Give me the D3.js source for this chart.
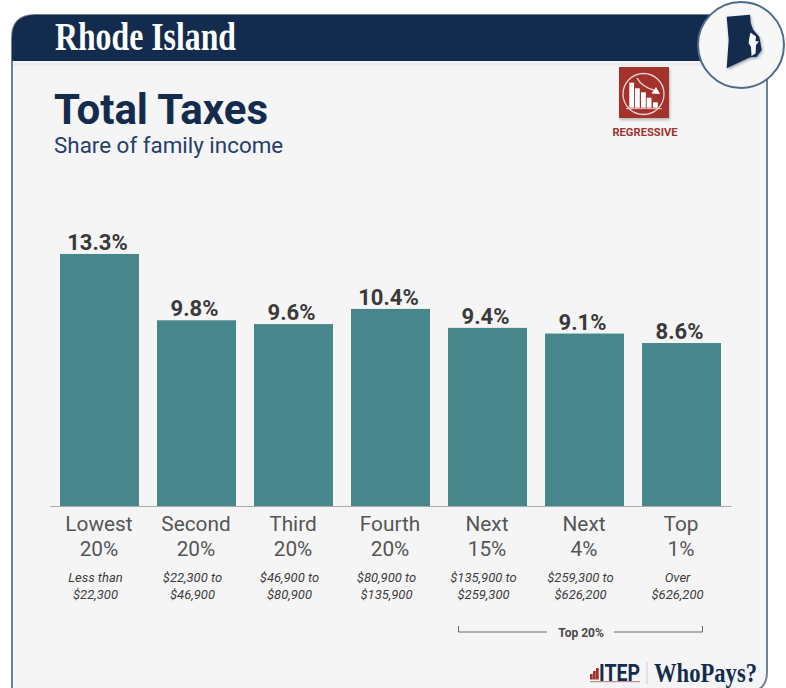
<!DOCTYPE html>
<html>
<head>
<meta charset="utf-8">
<script src="https://cdn.jsdelivr.net/npm/d3@7"></script>
<style>
  html, body { margin: 0; padding: 0; background: #fff; overflow: hidden; }
  svg { display: block; }
  text { font-family: Roboto, sans-serif; }
  .serif { font-family: "Liberation Serif", serif; font-weight: 700; }
</style>
</head>
<body>
<svg id="chart"></svg>
<script>
// chart data
const stateName = 'Rhode Island';
const chartTitle = 'Total Taxes';
const chartSubtitle = 'Share of family income';
const groupNames = ['Lowest', 'Second', 'Third', 'Fourth', 'Next', 'Next', 'Top'];
const groupShares = ['20%', '20%', '20%', '20%', '15%', '4%', '1%'];
const taxShares = [13.3, 9.8, 9.6, 10.4, 9.4, 9.1, 8.6];
const incomeFrom = ['Less than', '$22,300 to', '$46,900 to', '$80,900 to', '$135,900 to', '$259,300 to', 'Over'];
const incomeTo = ['$22,300', '$46,900', '$80,900', '$135,900', '$259,300', '$626,200', '$626,200'];

const navy = '#132c4e';
const teal = '#47868a';
const red = '#a3322c';
const cardFill = '#f5f5f5';

const width = 786;
const height = 688;
const keys = d3.range(groupNames.length);

const svg = d3.select('#chart').attr('width', width).attr('height', height);

svg.append('defs').append('filter').attr('id', 'soft')
    .append('feGaussianBlur').attr('stdDeviation', 1.5);

// CARD
svg.append('path')
    .attr('d', 'M12,692 V38 Q12,15 35,15 H767 V672 Q767,690 750,692 Z')
    .attr('fill', cardFill)
    .attr('stroke', '#6f8197')
    .attr('stroke-width', 2);

svg.append('path')
    .attr('d', 'M12,61 V38 Q12,15 35,15 H767 V61 Z')
    .attr('fill', navy);

svg.append('rect')
    .attr('x', 13).attr('y', 63).attr('width', 753).attr('height', 3)
    .attr('fill', '#ececec');

svg.append('text').attr('class', 'serif')
    .attr('x', 55).attr('y', 50)
    .attr('font-size', 39)
    .attr('textLength', 181)
    .attr('lengthAdjust', 'spacingAndGlyphs')
    .attr('fill', '#fff')
    .text(stateName);

svg.append('text')
    .attr('x', 54).attr('y', 124)
    .attr('font-size', 42).attr('font-weight', 700)
    .attr('fill', navy)
    .text(chartTitle);

svg.append('text')
    .attr('x', 54).attr('y', 153)
    .attr('font-size', 22.4)
    .attr('fill', '#24406a')
    .text(chartSubtitle);

// STATE BADGE
const badge = svg.append('g');
badge.append('circle')
    .attr('cx', 741).attr('cy', 45).attr('r', 43)
    .attr('fill', '#f7f7f7')
    .attr('stroke', '#4f6a8a')
    .attr('stroke-width', 2);

const stateOutline = 'M726.7,16.7 L750,14.7 L750.7,23.3 L753.3,30 L759.3,36.7 L761.7,50 L756.7,56.7 L750,57.3 L726.7,68.3 L727.3,60 L728.7,40 Z';
const bayOutline = 'M750.5,32.5 L756,36.5 L755.5,41 L759,41.5 L756,45 L755.5,53.5 L751.5,56 L751,47 L748.5,43 L749.5,37 Z';

badge.append('path')
    .attr('d', stateOutline)
    .attr('transform', 'translate(1,1.5)')
    .attr('fill', '#9aa3ad')
    .attr('filter', 'url(#soft)');
badge.append('path').attr('d', stateOutline).attr('fill', navy);
badge.append('path').attr('d', bayOutline).attr('fill', '#f7f7f7');

// REGRESSIVE ICON
const icon = svg.append('g').attr('transform', 'translate(619,67)');
icon.append('rect')
    .attr('x', 1).attr('y', 2).attr('width', 50).attr('height', 51)
    .attr('fill', '#b5b5b5')
    .attr('filter', 'url(#soft)');
icon.append('rect')
    .attr('width', 50).attr('height', 51)
    .attr('fill', red);
icon.append('circle')
    .attr('cx', 24.5).attr('cy', 27).attr('r', 20.5)
    .attr('fill', 'none')
    .attr('stroke', '#ecd3d0')
    .attr('stroke-width', 1.3);
icon.selectAll('rect.step')
  .data([[10.3, 15.7, 25], [16, 21.3, 19.4], [22, 25.3, 15.4], [27.7, 30.7, 10], [34, 35.3, 5.4]])
  .join('rect')
    .attr('class', 'step')
    .attr('x', d => d[0])
    .attr('y', d => d[1])
    .attr('width', 4.8)
    .attr('height', d => d[2])
    .attr('fill', '#fff');
icon.append('rect')
    .attr('x', 7).attr('y', 41.2).attr('width', 36).attr('height', 0.9)
    .attr('fill', '#ecd3d0');
icon.append('path')
    .attr('d', 'M18,11 Q23,20 35,23')
    .attr('fill', 'none')
    .attr('stroke', '#ecd3d0')
    .attr('stroke-width', 1.5);
icon.append('path')
    .attr('d', 'M41,27 L32.5,26.5 L37,20 Z')
    .attr('fill', '#fff');

svg.append('text')
    .attr('x', 645).attr('y', 136)
    .attr('text-anchor', 'middle')
    .attr('font-size', 11.2).attr('font-weight', 700)
    .attr('fill', red)
    .text('REGRESSIVE');

// SCALES
const xScale = d3.scaleBand()
    .domain(keys)
    .range([50, 731])
    .paddingInner(0.186)
    .paddingOuter(0.103);

const yScale = d3.scaleLinear()
    .domain([0, 14])
    .range([506, 240.7]);

// BARS
svg.selectAll('rect.bar')
  .data(keys)
  .join('rect')
    .attr('class', 'bar')
    .attr('x', i => xScale(i))
    .attr('y', i => yScale(taxShares[i]))
    .attr('width', xScale.bandwidth())
    .attr('height', i => yScale(0) - yScale(taxShares[i]))
    .attr('fill', teal);

svg.selectAll('text.value')
  .data(keys)
  .join('text')
    .attr('class', 'value')
    .attr('x', i => xScale(i) + xScale.bandwidth() / 2 - 2)
    .attr('y', i => yScale(taxShares[i]) - 4)
    .attr('text-anchor', 'middle')
    .attr('font-size', 22).attr('font-weight', 700)
    .attr('fill', '#3a3a3a')
    .text(i => taxShares[i].toFixed(1) + '%');

// AXIS
const xAxis = svg.append('g')
    .attr('transform', 'translate(0,506)')
    .call(d3.axisBottom(xScale).tickSize(0));

xAxis.select('.domain')
    .attr('stroke', '#a9a9a9')
    .attr('stroke-width', 1.2);

xAxis.selectAll('.tick text').remove();

const ticks = xAxis.selectAll('.tick');

ticks.append('text')
    .attr('x', -0.5).attr('y', 25).attr('text-anchor', 'middle')
    .attr('font-size', 20.8).attr('fill', '#555')
    .text(i => groupNames[i]);
ticks.append('text')
    .attr('x', -0.5).attr('y', 50).attr('text-anchor', 'middle')
    .attr('font-size', 20.8).attr('fill', '#555')
    .text(i => groupShares[i]);
ticks.append('text')
    .attr('x', -4).attr('y', 76).attr('text-anchor', 'middle')
    .attr('font-size', 13).attr('font-style', 'italic').attr('fill', '#3d3d3d')
    .text(i => incomeFrom[i]);
ticks.append('text')
    .attr('x', -4).attr('y', 93).attr('text-anchor', 'middle')
    .attr('font-size', 13).attr('font-style', 'italic').attr('fill', '#3d3d3d')
    .text(i => incomeTo[i]);

// TOP 20% BRACKET
svg.append('path')
    .attr('d', 'M458.5,626 V632 H547 M614,632 H702.5 V626')
    .attr('fill', 'none')
    .attr('stroke', '#666')
    .attr('stroke-width', 1);

svg.append('text')
    .attr('x', 581).attr('y', 636.5)
    .attr('text-anchor', 'middle')
    .attr('font-size', 12).attr('font-weight', 700)
    .attr('fill', '#4a4a4a')
    .text('Top 20%');

// LOGO
svg.selectAll('rect.logo')
  .data([[590, 674, 5.5], [593, 671, 8.5], [596, 668, 11.5]])
  .join('rect')
    .attr('class', 'logo')
    .attr('x', d => d[0])
    .attr('y', d => d[1])
    .attr('width', 2.7)
    .attr('height', d => d[2])
    .attr('fill', red);

svg.append('text')
    .attr('x', 599).attr('y', 680.5)
    .attr('font-size', 23.5).attr('font-weight', 700)
    .attr('textLength', 41)
    .attr('lengthAdjust', 'spacingAndGlyphs')
    .attr('fill', navy)
    .text('ITEP');

// the tiny strapline under ITEP is not legible, so it stays a thin red rule
svg.append('rect')
    .attr('x', 590).attr('y', 681).attr('width', 50).attr('height', 1.2)
    .attr('fill', red).attr('opacity', 0.55);

svg.append('line')
    .attr('x1', 647).attr('x2', 647)
    .attr('y1', 662).attr('y2', 684)
    .attr('stroke', '#c5ccd4');

svg.append('text').attr('class', 'serif')
    .attr('x', 654).attr('y', 681.5)
    .attr('font-size', 28)
    .attr('textLength', 103)
    .attr('lengthAdjust', 'spacingAndGlyphs')
    .attr('fill', navy)
    .text('WhoPays?');
</script>
</body>
</html>
